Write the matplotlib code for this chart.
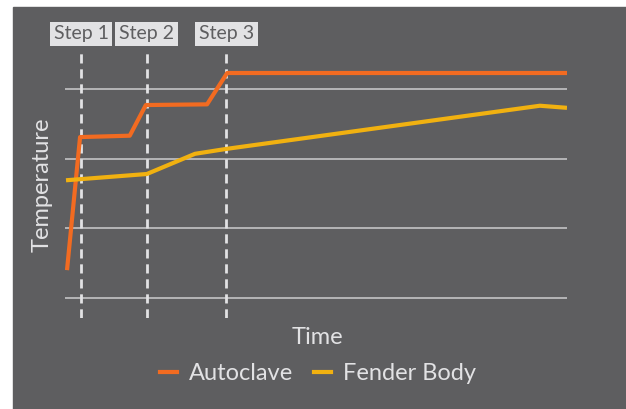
import matplotlib.pyplot as plt
from matplotlib.patches import Rectangle
from matplotlib.lines import Line2D

# data (arbitrary units)
auto_t = [0.4, 3.0, 12.9, 16.1, 28.3, 32.3, 100]
auto_temp = [0.40, 2.31, 2.33, 2.77, 2.78, 3.23, 3.23]

fender_t = [0.2, 16.3, 25.9, 32.1, 94.6, 100]
fender_temp = [1.69, 1.78, 2.07, 2.14, 2.76, 2.73]

step_t = [3.2, 16.3, 32.1]
step_labels = ["Step 1", "Step 2", "Step 3"]

bg = "#5e5e60"
txt = "#e2e2e4"
orange = "#f26b21"
yellow = "#f1b110"

plt.rcParams["font.family"] = ["Lato", "DejaVu Sans"]

fig = plt.figure(figsize=(6.26, 4.09), dpi=100, facecolor="white")
fig.patches.append(Rectangle((13 / 626, 0), 1, (409 - 7) / 409,
                             transform=fig.transFigure, color=bg, zorder=-10))

W, H = 626, 409
ax = fig.add_axes([65 / W, (H - 318) / H, (567 - 65) / W, (318 - 53) / H])
ax.patch.set_alpha(0)
for s in ax.spines.values():
    s.set_visible(False)

ax.set_xlim(0, 100)
ax.set_ylim(-0.287, 3.517)
ax.set_xticks([])
ax.set_yticks([])

for g in [0, 1, 2, 3]:
    ax.axhline(g, color="#c4c4c6", lw=1.2, zorder=1)

for t, lab in zip(step_t, step_labels):
    ax.axvline(t, color="#e2e2e4", lw=2, ls=(0, (3.3, 2.1)), zorder=2)
    ax.text(t, 1.0 + 19 / (318 - 53), lab, transform=ax.get_xaxis_transform(),
            ha="center", va="center", fontsize=14, color="#5e5e60",
            bbox=dict(boxstyle="square,pad=0.2", fc="#e2e2e4", ec="none"),
            clip_on=False)

ax.plot(auto_t, auto_temp, color=orange, lw=3, zorder=3, solid_capstyle="butt")
ax.plot(fender_t, fender_temp, color=yellow, lw=3, zorder=3, solid_capstyle="butt")

fig.text(42 / W, 1 - 185 / H, "Temperature", rotation=90, ha="center", va="center",
         fontsize=17, color=txt)
fig.text(317 / W, 1 - 337 / H, "Time", ha="center", va="center",
         fontsize=17, color=txt)

handles = [Line2D([], [], color=orange, lw=3), Line2D([], [], color=yellow, lw=3)]
fig.legend(handles, ["Autoclave", "Fender Body"], loc="center",
           bbox_to_anchor=(318 / W, 1 - 374 / H), ncol=2, frameon=False,
           handlelength=0.7, handletextpad=0.5, columnspacing=0.9,
           fontsize=17, labelcolor=txt)

fig.savefig("out.png", dpi=100, facecolor="white")
